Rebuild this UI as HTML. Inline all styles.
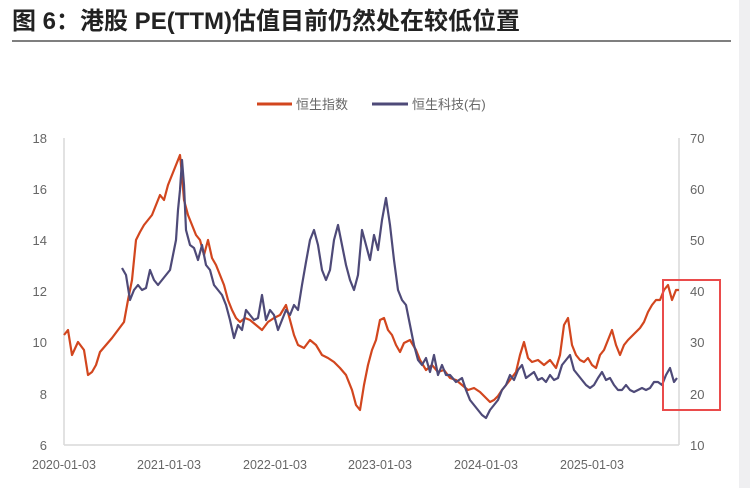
<!DOCTYPE html>
<html><head><meta charset="utf-8"><style>
body{margin:0;width:750px;height:488px;background:#fff;overflow:hidden;font-family:"Liberation Sans","Noto Sans CJK SC",sans-serif}
</style></head><body>
<svg width="750" height="488" xmlns="http://www.w3.org/2000/svg" style="position:absolute;left:0;top:0">
<rect x="739" y="0" width="11" height="488" fill="#efeff1"/>
<text x="12" y="29" font-size="24" font-weight="bold" fill="#222" font-family="Liberation Sans,Noto Sans CJK SC,sans-serif">图 6：港股 PE(TTM)估值目前仍然处在较低位置</text>
<line x1="12" y1="41" x2="731" y2="41" stroke="#555" stroke-width="1.5"/>
<line x1="257" y1="104" x2="292" y2="104" stroke="#d2461e" stroke-width="3"/>
<text x="296" y="109" font-size="13" fill="#666">恒生指数</text>
<line x1="372" y1="104" x2="408" y2="104" stroke="#4e4a78" stroke-width="3"/>
<text x="412" y="109" font-size="13" fill="#666">恒生科技(右)</text>
<g stroke="#d9d9d9" stroke-width="1.5"><line x1="64" y1="138" x2="64" y2="445"/><line x1="679" y1="138" x2="679" y2="445"/><line x1="64" y1="445" x2="679" y2="445"/></g>
<g font-size="13" fill="#666" text-anchor="end">
<text x="47" y="143">18</text><text x="47" y="194">16</text><text x="47" y="245">14</text><text x="47" y="296">12</text><text x="47" y="347">10</text><text x="47" y="399">8</text><text x="47" y="450">6</text></g>
<g font-size="13" fill="#666" text-anchor="start">
<text x="690" y="143">70</text><text x="690" y="194">60</text><text x="690" y="245">50</text><text x="690" y="296">40</text><text x="690" y="347">30</text><text x="690" y="399">20</text><text x="690" y="450">10</text></g>
<g font-size="12.5" fill="#666" text-anchor="middle">
<text x="64" y="469">2020-01-03</text><text x="169" y="469">2021-01-03</text><text x="275" y="469">2022-01-03</text><text x="380" y="469">2023-01-03</text><text x="486" y="469">2024-01-03</text><text x="592" y="469">2025-01-03</text></g>
<polyline fill="none" stroke="#d2461e" stroke-width="2.2" stroke-linejoin="round" points="64,335 68,330 72,355 78,342 84,350 88,375 92,372 96,365 100,352 106,345 112,338 118,330 124,322 128,300 132,280 136,240 140,232 144,225 148,220 152,215 156,205 160,195 164,200 168,185 172,175 176,165 180,155 182,175 184,200 188,215 192,225 196,235 200,240 204,255 208,240 212,258 216,265 220,275 224,285 228,300 232,310 236,318 240,322 245,318 250,320 256,325 262,330 268,322 274,318 280,315 286,305 290,320 294,335 298,345 304,348 310,340 316,345 322,355 328,358 334,362 340,368 346,375 352,390 356,405 360,410 364,385 368,365 372,350 376,340 380,320 384,318 388,330 392,335 396,345 400,352 404,343 410,340 416,350 420,360 426,370 432,365 438,372 444,370 450,378 456,380 462,385 468,390 474,388 480,392 486,398 490,402 494,400 498,396 502,390 506,385 510,380 516,372 520,355 524,342 528,358 532,362 538,360 544,365 550,360 556,368 560,355 564,325 568,318 572,345 576,355 580,360 584,362 588,358 592,365 596,368 600,355 604,350 608,340 612,330 616,345 620,355 624,345 628,340 632,336 636,332 640,328 644,322 648,312 652,305 656,300 660,300 664,290 668,285 672,300 676,290 679,290"/>
<polyline fill="none" stroke="#4e4a78" stroke-width="2.2" stroke-linejoin="round" points="122,268 126,275 130,300 134,290 138,285 142,290 146,288 150,270 154,280 158,285 162,280 166,275 170,270 174,250 176,240 178,210 180,190 182,160 184,185 186,230 190,245 194,248 198,260 202,245 206,265 210,270 214,285 218,290 222,295 226,305 230,320 234,338 238,325 242,330 246,310 250,315 254,320 258,318 262,295 266,320 270,310 274,315 278,330 282,320 286,310 290,315 294,305 298,310 302,285 306,262 310,240 314,230 318,245 322,270 326,280 330,270 334,240 338,225 342,245 346,265 350,280 354,290 358,275 362,230 366,245 370,260 374,235 378,250 382,220 386,198 390,225 394,260 398,290 402,300 406,305 410,325 414,345 418,360 422,365 426,358 430,372 434,355 438,375 442,365 446,375 450,375 456,382 462,378 466,390 470,400 474,405 478,410 482,415 486,418 490,410 494,405 498,400 502,390 506,385 510,375 514,380 518,370 522,365 526,378 530,375 534,372 538,380 542,378 546,382 550,375 554,380 558,378 562,365 566,360 570,355 574,370 578,375 582,380 586,385 590,388 594,385 598,378 602,372 606,380 610,378 614,385 618,390 622,390 626,385 630,390 634,392 638,390 642,388 646,390 650,388 654,382 658,382 662,385 666,375 670,368 674,382 677,378"/>
<rect x="663" y="280" width="57" height="130" fill="none" stroke="#ea4b4b" stroke-width="2"/>
</svg>
</body></html>
